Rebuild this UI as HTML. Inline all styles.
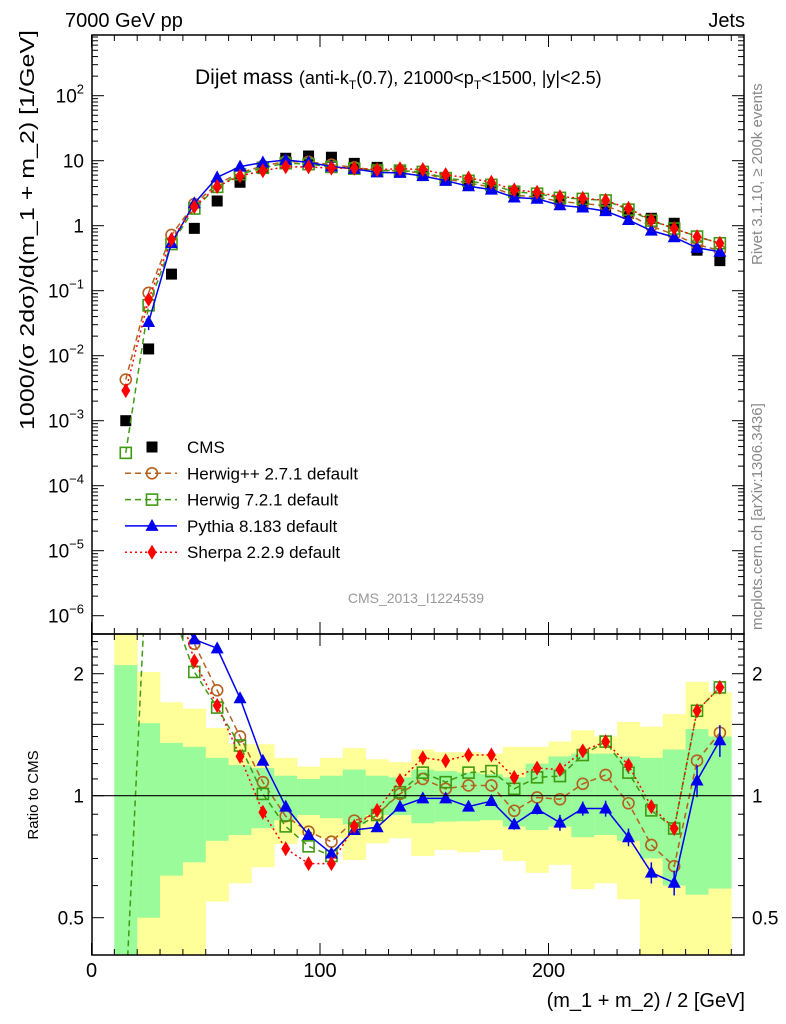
<!DOCTYPE html>
<html><head><meta charset="utf-8"><style>
body{margin:0;background:#fff}
svg{display:block;font-family:"Liberation Sans",sans-serif}
</style></head><body>
<svg id="chart" width="786" height="1024" viewBox="0 0 786 1024" xmlns="http://www.w3.org/2000/svg">
<defs>
<clipPath id="clipMain"><rect x="92" y="35" width="652" height="599"/></clipPath>
<clipPath id="clipRatio"><rect x="92" y="634" width="652" height="321"/></clipPath>
</defs>
<text x="65" y="27" font-size="20">7000 GeV pp</text>
<text x="745" y="27" font-size="20" text-anchor="end">Jets</text>
<g id="bands" clip-path="url(#clipRatio)"></g>
<g id="ticks"></g>
<g id="mainSeries" clip-path="url(#clipMain)"></g>
<g id="ratioSeries" clip-path="url(#clipRatio)"></g>
<line x1="92" x2="744" y1="795.7" y2="795.7" stroke="#000" stroke-width="1.2"/>
<rect x="92" y="35" width="652" height="599" fill="none" stroke="#000" stroke-width="1.5"/>
<rect x="92" y="634" width="652" height="321" fill="none" stroke="#000" stroke-width="1.5"/>
<text x="195" y="84" font-size="21">Dijet mass <tspan font-size="18">(anti-k</tspan><tspan font-size="12" dy="5">T</tspan><tspan font-size="18" dy="-5">(0.7), 21000&lt;p</tspan><tspan font-size="12" dy="5">T</tspan><tspan font-size="18" dy="-5">&lt;1500, |y|&lt;2.5)</tspan></text>
<text transform="translate(34,430) rotate(-90)" font-size="20" textLength="400" lengthAdjust="spacingAndGlyphs">1000/(σ 2dσ)/d(m_1 + m_2) [1/GeV]</text>
<text transform="translate(38,795) rotate(-90)" font-size="15" text-anchor="middle">Ratio to CMS</text>
<text x="745" y="1007" font-size="20" text-anchor="end">(m_1 + m_2) / 2 [GeV]</text>
<text transform="translate(762,265) rotate(-90)" font-size="15" fill="#888">Rivet 3.1.10, ≥ 200k events</text>
<text transform="translate(762,630) rotate(-90)" font-size="15" fill="#888">mcplots.cern.ch [arXiv:1306.3436]</text>
<text x="416" y="603" font-size="14" fill="#999" text-anchor="middle">CMS_2013_I1224539</text>
<g id="legend"></g>
</svg>
<script>
const bins=[15,25,35,45,55,65,75,85,95,105,115,125,135,145,155,165,175,185,195,205,215,225,235,245,255,265,275];
const cms=[0.001,0.0127,0.18,0.91,2.4,4.66,7.7,10.9,11.8,11.3,9.1,7.9,6.9,5.9,5.0,4.3,3.7,3.2,2.8,2.4,2.05,1.8,1.55,1.3,1.09,0.42,0.29];
const herwigpp=[4.3,7.3,4.0,2.37,1.82,1.40,1.08,0.89,0.815,0.77,0.868,0.90,1.01,1.10,1.04,1.06,1.06,0.918,0.99,0.98,1.07,1.125,0.958,0.756,0.67,1.22,1.43];
const herwig7=[0.32,4.7,2.9,2.02,1.65,1.33,1.01,0.84,0.75,0.71,0.83,0.896,1.02,1.14,1.08,1.14,1.15,1.04,1.11,1.118,1.26,1.36,1.14,0.92,0.83,1.62,1.85];
const pythia=[null,2.6,3.0,2.43,2.31,1.74,1.22,0.94,0.80,0.72,0.823,0.836,0.94,0.985,0.985,0.94,0.97,0.85,0.927,0.858,0.93,0.93,0.79,0.646,0.61,1.09,1.37];
const sherpa=[2.9,5.8,3.4,2.15,1.67,1.25,0.91,0.74,0.68,0.68,0.84,0.92,1.09,1.24,1.22,1.26,1.26,1.11,1.17,1.16,1.29,1.36,1.19,0.94,0.83,1.62,1.85];
const pythiaErr=[0,0.25,0.03,0.02,0.02,0.02,0.02,0.02,0.02,0.02,0.02,0.02,0.02,0.02,0.02,0.02,0.02,0.03,0.03,0.045,0.04,0.045,0.05,0.06,0.07,0.09,0.09];
const yellowHi=[3,2.02,1.70,1.64,1.47,1.34,1.34,1.24,1.18,1.24,1.31,1.23,1.21,1.30,1.28,1.28,1.27,1.32,1.32,1.36,1.45,1.40,1.52,1.48,1.59,1.91,1.80];
const yellowLo=[0.3,0.3,0.3,0.3,0.548,0.608,0.666,0.76,0.80,0.785,0.694,0.763,0.785,0.71,0.735,0.725,0.735,0.69,0.645,0.675,0.588,0.608,0.555,0.3,0.3,0.3,0.3];
const greenHi=[2.1,1.51,1.35,1.32,1.24,1.19,1.17,1.12,1.10,1.12,1.16,1.12,1.11,1.16,1.15,1.14,1.13,1.11,1.2,1.25,1.27,1.27,1.25,1.24,1.30,1.46,1.40];
const greenLo=[0.3,0.5,0.635,0.685,0.774,0.80,0.831,0.87,0.896,0.88,0.85,0.896,0.896,0.855,0.863,0.865,0.87,0.839,0.823,0.839,0.79,0.80,0.774,0.70,0.60,0.57,0.59];
const xTicks=[0,100,200];
const yDecades=[-6,-5,-4,-3,-2,-1,0,1,2];
const ratioTicks=[0.5,1,2];

const NS="http://www.w3.org/2000/svg";
const X=v=>91.5+2.285*v;
const Y=v=>160.7-65*(Math.log10(v)-1);
const R=v=>795.7-122*Math.log2(v);
function mk(tag,parent,attrs){const e=document.createElementNS(NS,tag);for(const k in attrs)e.setAttribute(k,attrs[k]);parent.appendChild(e);return e;}

const gb=document.getElementById('bands');
bins.forEach((b,i)=>{
  const x0=X(b-5),x1=X(b+5);
  const ry=mk('rect',gb,{x:x0,y:R(yellowHi[i]),width:x1-x0+0.3,height:R(yellowLo[i])-R(yellowHi[i]),fill:'#ffff99'});
  
  
  const rg=mk('rect',gb,{x:x0,y:R(greenHi[i]),width:x1-x0+0.3,height:R(greenLo[i])-R(greenHi[i]),fill:'#99fb99'});
  
  
});

const gt=document.getElementById('ticks');
function tick(x1,y1,x2,y2){const l=mk('line',gt,{x1,y1,x2,y2,stroke:'#000','stroke-width':1});}
for(let v=0;v<=280;v+=10){const x=X(v),L=v%100===0?12:6;
  tick(x,35,x,35+L);tick(x,634,x,634-L);tick(x,634,x,634+L);tick(x,955,x,955-L);}
yDecades.forEach(d=>{for(let m=1;m<10;m++){const y=Y(m*Math.pow(10,d));if(y<35||y>634)continue;const L=m===1?12:6;tick(92,y,92+L,y);tick(744,y,744-L,y);}});
for(let v=0.4;v<=2.45;v+=0.1){const y=R(v);if(y<634||y>955)continue;const r=Math.round(v*10);const L=(r===5||r===10||r===15||r===20)?12:6;tick(92,y,92+L,y);tick(744,y,744-L,y);}
xTicks.forEach(v=>{const t=mk('text',gt,{x:X(v),y:977,'font-size':20,'text-anchor':'middle'});t.textContent=v;});
yDecades.forEach(d=>{const y=Y(Math.pow(10,d))+7;const t=mk('text',gt,{x:84,y:y,'font-size':19,'text-anchor':'end'});
  
  if(d===0)t.textContent='1';else if(d===1)t.textContent='10';else{t.textContent='10';const s=mk('tspan',t,{'font-size':13,dy:-9});s.textContent=d<0?'\u2212'+(-d):String(d);}
});
ratioTicks.forEach(v=>{[[84,'end'],[752,'start']].forEach(([x,a])=>{const t=mk('text',gt,{x:x,y:R(v)+7,'font-size':19,'text-anchor':a});t.textContent=String(v);});});

const series=[
 {name:'herwigpp',vals:herwigpp,color:'#b5601f',dash:'6,4',marker:'circle'},
 {name:'herwig7',vals:herwig7,color:'#3f9a12',dash:'6,4',marker:'square'},
 {name:'pythia',vals:pythia,color:'#0000f0',dash:'',marker:'triangle'},
 {name:'sherpa',vals:sherpa,color:'#ff0000',dash:'2,3',marker:'diamond'}
];
function marker(parent,type,x,y,color){
  let e;
  if(type==='circle')e=mk('circle',parent,{cx:x,cy:y,r:5.5,fill:'none',stroke:color,'stroke-width':1.6});
  else if(type==='square')e=mk('rect',parent,{x:x-5.5,y:y-5.5,width:11,height:11,fill:'none',stroke:color,'stroke-width':1.6});
  else if(type==='triangle')e=mk('polygon',parent,{points:`${x},${y-7} ${x-6.5},${y+5} ${x+6.5},${y+5}`,fill:color});
  else if(type==='diamond')e=mk('polygon',parent,{points:`${x},${y-7.5} ${x+4.5},${y} ${x},${y+7.5} ${x-4.5},${y}`,fill:color});
  else e=mk('rect',parent,{x:x-5.5,y:y-5.5,width:11,height:11,fill:color});
  return e;
}
const gm=document.getElementById('mainSeries'),gr=document.getElementById('ratioSeries');
bins.forEach((b,i)=>{const m=marker(gm,'data',X(b),Y(cms[i]),'#000');
  
  });
series.forEach(s=>{
  const ptsM=[],ptsR=[];
  bins.forEach((b,i)=>{if(s.vals[i]==null)return;ptsM.push([X(b),Y(s.vals[i]*cms[i])]);ptsR.push([X(b),R(s.vals[i])]);});
  [[gm,ptsM],[gr,ptsR]].forEach(([g,pts],pi)=>{
    const pl=mk('polyline',g,{points:pts.map(p=>p.join(',')).join(' '),fill:'none',stroke:s.color,'stroke-width':1.5,'stroke-dasharray':s.dash});
    
    
  });
  bins.forEach((b,i)=>{if(s.vals[i]==null)return;
    if(s.name==='pythia'){
      const e=pythiaErr[i];
      const l1=mk('line',gm,{x1:X(b),x2:X(b),y1:Y(s.vals[i]*cms[i]*(1+e)),y2:Y(s.vals[i]*cms[i]*(1-e)),stroke:s.color,'stroke-width':1.5});
      
      if(i>=3){
        const l2=mk('line',gr,{x1:X(b),x2:X(b),y1:R(s.vals[i]*(1+e)),y2:R(s.vals[i]*(1-e)),stroke:s.color,'stroke-width':1.5});
        
      }
    }
    const m1=marker(gm,s.marker,X(b),Y(s.vals[i]*cms[i]),s.color);
    
    
    const m2=marker(gr,s.marker,X(b),R(s.vals[i]),s.color);
    
    
  });
});

const gl=document.getElementById('legend');
const legendItems=[['CMS','data','#000',''],['Herwig++ 2.7.1 default','circle','#b5601f','6,4'],['Herwig 7.2.1 default','square','#3f9a12','6,4'],['Pythia 8.183 default','triangle','#0000f0',''],['Sherpa 2.2.9 default','diamond','#ff0000','2,3']];
legendItems.forEach((it,i)=>{
  const y=447+26.3*i;
  if(i>0){const l=mk('line',gl,{x1:125,x2:177,y1:y,y2:y,stroke:it[2],'stroke-width':1.5,'stroke-dasharray':it[3]});
    }
  const m=marker(gl,it[1],152,y,it[2]);
  
  
  const t=mk('text',gl,{x:187,y:y+6,'font-size':17});t.textContent=it[0];
  
  
});
</script>
</body></html>
